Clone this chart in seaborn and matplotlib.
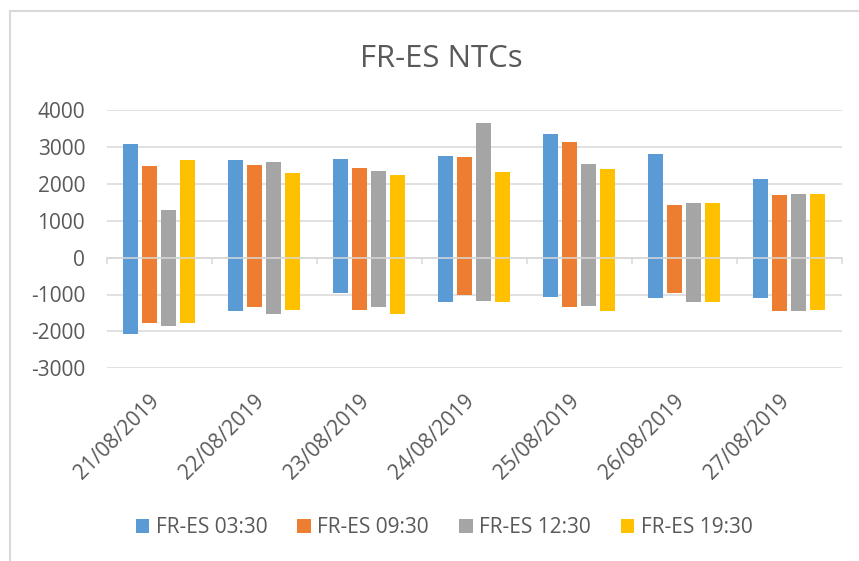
import numpy as np
import pandas as pd
import seaborn as sns
import matplotlib
matplotlib.use('Agg')
from matplotlib import pyplot as plt
from matplotlib.patches import Rectangle
from matplotlib.transforms import ScaledTranslation

# data (each bar floats from min to max)
dates = ['21/08/2019', '22/08/2019', '23/08/2019', '24/08/2019',
         '25/08/2019', '26/08/2019', '27/08/2019']
series = ['FR-ES 03:30', 'FR-ES 09:30', 'FR-ES 12:30', 'FR-ES 19:30']

max_0330 = [3090, 2640, 2680, 2740, 3340, 2820, 2120]
max_0930 = [2470, 2500, 2440, 2720, 3120, 1420, 1700]
max_1230 = [1290, 2580, 2340, 3660, 2530, 1490, 1730]
max_1930 = [2640, 2300, 2230, 2330, 2390, 1490, 1730]

min_0330 = [-2080, -1450, -970, -1210, -1070, -1100, -1100]
min_0930 = [-1760, -1350, -1420, -1010, -1350, -970, -1450]
min_1230 = [-1860, -1530, -1350, -1180, -1310, -1210, -1450]
min_1930 = [-1760, -1420, -1530, -1210, -1450, -1210, -1420]

y_ticks = [-3000, -2000, -1000, 0, 1000, 2000, 3000, 4000]
colors = ['#5B9BD5', '#ED7D31', '#A5A5A5', '#FFC000']

rows = []
for name, hi, lo in zip(series,
                        [max_0330, max_0930, max_1230, max_1930],
                        [min_0330, min_0930, min_1230, min_1930]):
    for d, h, l in zip(dates, hi, lo):
        rows.append({'date': d, 'series': name, 'max': h, 'min': l})
df = pd.DataFrame(rows)

sns.set_style('white')
plt.rcParams['font.family'] = ['Open Sans', 'DejaVu Sans']
text_color = '#595959'
grid_color = '#D9D9D9'

fig = plt.figure(figsize=(8.59, 5.61), dpi=100)
ax = fig.add_axes([106.7 / 859, 1 - 368.3 / 561,
                   (841.7 - 106.7) / 859, (368.3 - 110.0) / 561])

common = dict(data=df, x='date', hue='series', order=dates, hue_order=series,
              palette=colors, saturation=1, width=0.724, gap=0.21,
              linewidth=0, errorbar=None, ax=ax)
sns.barplot(y='max', **common)
sns.barplot(y='min', legend=False, **common)

ax.set_ylim(-3000, 4000)
ax.set_xlim(-0.5, len(dates) - 0.5)
ax.set_yticks(y_ticks)
ax.set_yticklabels([str(v) for v in y_ticks])
ax.set_xlabel('')
ax.set_ylabel('')
ax.set_axisbelow(True)
ax.yaxis.grid(True, color=grid_color, linewidth=1.1)
ax.axhline(0, color=grid_color, linewidth=1.1, zorder=5)
for s in ax.spines.values():
    s.set_visible(False)

ax.tick_params(axis='y', length=0, pad=15.5, labelsize=15, labelcolor=text_color)
ax.tick_params(axis='x', length=0, pad=16, labelsize=15, labelcolor=text_color)
for lab in ax.get_xticklabels():
    lab.set_rotation(45)
    lab.set_ha('right')
    lab.set_transform(lab.get_transform() +
                      ScaledTranslation(4 / 100, 0, fig.dpi_scale_trans))

# category tick marks on the zero line
sec = ax.secondary_xaxis(3 / 7)
sec.set_xticks(np.arange(len(dates) + 1) - 0.5)
sec.set_xticklabels([])
sec.tick_params(axis='x', direction='out', length=4, width=1.1, color=grid_color)
sec.spines['bottom'].set_color(grid_color)
sec.spines['bottom'].set_linewidth(1.1)

handles, labels = ax.get_legend_handles_labels()
ax.legend(handles, labels, loc='center', bbox_to_anchor=(444 / 859, 1 - 527.7 / 561),
          bbox_transform=fig.transFigure, ncol=4, frameon=False, fontsize=15,
          handlelength=0.65, handleheight=0.65, handletextpad=0.3,
          columnspacing=1.45, labelcolor=text_color)

fig.text(441.7 / 859, 1 - 67.3 / 561, 'FR-ES NTCs', ha='center', va='baseline',
         fontsize=22.4, color=text_color)

# chart area border (cropped on the right and bottom in the reference)
fig.patches.append(Rectangle((10 / 859, -0.2), 1.2, 1.2 - 11 / 561,
                             transform=fig.transFigure, fill=False,
                             edgecolor=grid_color, linewidth=1.5))

fig.savefig('out.png', dpi=100)
